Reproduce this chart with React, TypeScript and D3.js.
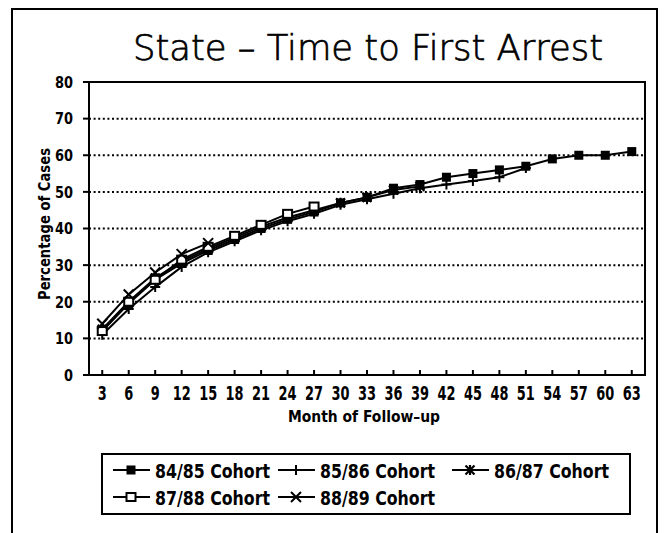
import React from 'react';
import * as d3 from 'd3';

const months = [3, 6, 9, 12, 15, 18, 21, 24, 27, 30, 33, 36, 39, 42, 45, 48, 51, 54, 57, 60, 63];
const yTicks = [0, 10, 20, 30, 40, 50, 60, 70, 80];

const cohort8485 = [12, 19.5, 26, 30.5, 34, 37, 40, 42.5, 44.5, 47, 48.5, 51, 52, 54, 55, 56, 57, 59, 60, 60, 61];
const cohort8586 = [11, 18, 24, 29.5, 33.5, 36.5, 39.5, 42, 44, 46.5, 48, 49.5, 51, 52, 53, 54, 56.5];
const cohort8687 = [12.5, 20, 26.5, 31, 34.5, 37.5, 40.5, 43, 45, 47, 48.5, 50.5, 51.5];
const cohort8788 = [12, 20, 26, 31.5, 35, 38, 41, 44, 46];
const cohort8889 = [14, 22, 28, 33, 36];

const series = [
  { name: '84/85 Cohort', values: cohort8485, marker: 'filledSquare' },
  { name: '85/86 Cohort', values: cohort8586, marker: 'plus' },
  { name: '86/87 Cohort', values: cohort8687, marker: 'star' },
  { name: '87/88 Cohort', values: cohort8788, marker: 'openSquare' },
  { name: '88/89 Cohort', values: cohort8889, marker: 'cross' },
];

const Marker = ({ type, x, y }: { type: string; x: number; y: number }) => {
  if (type === 'filledSquare') {
    return <rect x={x - 4.5} y={y - 4.5} width={9} height={9} fill="#000" />;
  }
  if (type === 'openSquare') {
    return <rect x={x - 4.5} y={y - 4} width={9} height={8} fill="#fff" stroke="#000" strokeWidth={2} />;
  }
  if (type === 'plus') {
    return <path d={`M${x},${y - 5}V${y + 5}M${x - 5},${y}H${x + 5}`} stroke="#000" strokeWidth={2} />;
  }
  if (type === 'cross') {
    return <path d={`M${x - 5},${y - 5}L${x + 5},${y + 5}M${x - 5},${y + 5}L${x + 5},${y - 5}`} stroke="#000" strokeWidth={2} />;
  }
  return (
    <path
      d={`M${x - 4.5},${y - 4.5}L${x + 4.5},${y + 4.5}M${x - 4.5},${y + 4.5}L${x + 4.5},${y - 4.5}M${x},${y - 5}V${y + 5}`}
      stroke="#000"
      strokeWidth={2.2}
    />
  );
};

const App = () => {
  const width = 670;
  const height = 533;
  const margin = { top: 82, right: 25, bottom: 158, left: 89 };
  const innerWidth = width - margin.left - margin.right;
  const innerHeight = height - margin.top - margin.bottom;

  const xScale = d3.scalePoint<number>().domain(months).range([0, innerWidth]).padding(0.5);
  const yScale = d3.scaleLinear().domain([0, 80]).range([innerHeight, 0]);

  const line = d3
    .line<number>()
    .x((_, i) => xScale(months[i]) as number)
    .y(d => yScale(d));

  const font = '"DejaVu Sans Condensed", "DejaVu Sans", sans-serif';

  // legend layout
  const legendItems = [
    { s: series[0], x: 113, y: 470 },
    { s: series[1], x: 278, y: 470 },
    { s: series[2], x: 452, y: 470 },
    { s: series[3], x: 113, y: 497 },
    { s: series[4], x: 278, y: 497 },
  ];

  return (
    <svg width={width} height={height} style={{ position: 'absolute', left: 0, top: 0, background: '#fff' }}>
      <rect x={12} y={9} width={645} height={540} fill="#fff" stroke="#000" strokeWidth={2} />
      <text
        x={133}
        y={60}
        textLength={470}
        lengthAdjust="spacingAndGlyphs"
        fontFamily='"DejaVu Sans", sans-serif'
        fontWeight={200}
        fontSize={35}
        fill="#000"
        stroke="#000"
        strokeWidth={0.7}
      >
        State – Time to First Arrest
      </text>

      <g transform={`translate(${margin.left}, ${margin.top})`}>
        {yTicks.slice(1, -1).map(t => (
          <line
            key={t}
            x1={0}
            x2={innerWidth}
            y1={yScale(t)}
            y2={yScale(t)}
            stroke="#000"
            strokeWidth={2}
            strokeDasharray="2,2.6"
          />
        ))}
        <rect x={0} y={0} width={innerWidth} height={innerHeight} fill="none" stroke="#000" strokeWidth={2} />

        {yTicks.map(t => (
          <g key={t} transform={`translate(0, ${yScale(t)})`}>
            <line x1={-6} x2={0} stroke="#000" strokeWidth={2} />
            <text
              x={-16}
              dy="0.36em"
              textAnchor="end"
              fontFamily={font}
              fontWeight="bold"
              fontSize={16}
              textLength={t === 0 ? 9 : 18}
              lengthAdjust="spacingAndGlyphs"
            >
              {t}
            </text>
          </g>
        ))}
        {months.map(m => (
          <g key={m} transform={`translate(${xScale(m)}, ${innerHeight})`}>
            <line y1={-5} y2={0} stroke="#000" strokeWidth={2} />
            <text
              y={25}
              textAnchor="middle"
              fontFamily={font}
              fontSize={20}
              fontWeight="bold"
              textLength={m < 10 ? 9 : 18}
              lengthAdjust="spacingAndGlyphs"
            >
              {m}
            </text>
          </g>
        ))}

        {series.map(s => (
          <g key={s.name}>
            <path d={line(s.values) || ''} fill="none" stroke="#000" strokeWidth={2} />
            {s.values.map((v, i) => (
              <Marker key={i} type={s.marker} x={xScale(months[i]) as number} y={yScale(v)} />
            ))}
          </g>
        ))}
      </g>

      <text
        x={288}
        y={422}
        textLength={152}
        lengthAdjust="spacingAndGlyphs"
        fontFamily={font}
        fontWeight="bold"
        fontSize={16}
      >
        Month of Follow–up
      </text>
      <text
        transform={`translate(50, 300) rotate(-90)`}
        textLength={152}
        lengthAdjust="spacingAndGlyphs"
        fontFamily={font}
        fontWeight="bold"
        fontSize={15}
      >
        Percentage of Cases
      </text>

      <rect x={102} y={454} width={528} height={60} fill="#fff" stroke="#000" strokeWidth={2} />
      {legendItems.map(({ s, x, y }) => (
        <g key={s.name}>
          <line x1={x} x2={x + 37} y1={y} y2={y} stroke="#000" strokeWidth={2} />
          <Marker type={s.marker} x={x + 18} y={y} />
          <text
            x={x + 42}
            y={y + 7.5}
            textLength={115}
            lengthAdjust="spacingAndGlyphs"
            fontFamily={font}
            fontSize={19}
            fontWeight="bold"
          >
            {s.name}
          </text>
        </g>
      ))}
    </svg>
  );
};

export default App;
